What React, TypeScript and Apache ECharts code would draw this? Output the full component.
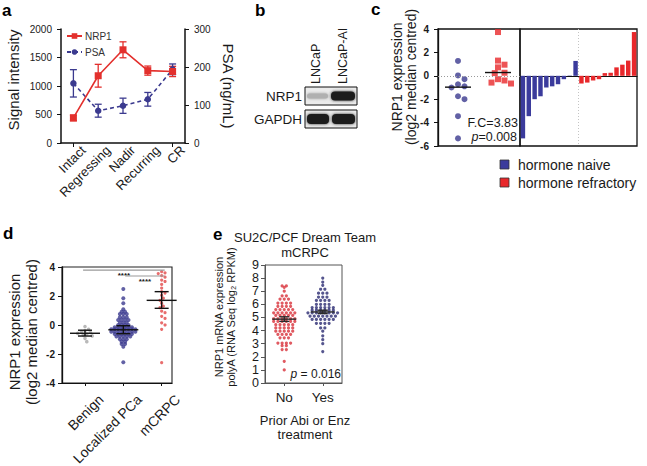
import React, { useEffect, useRef } from 'react';
import * as echarts from 'echarts';

const FONT = '"Liberation Sans", Arial, Helvetica, sans-serif';
const INK = '#1a1a1a';
const RED = '#e3302d';
const NAVY = '#3b3a8f';
const E_RED = '#d8313a';
const E_NAVY = '#2b2a72';
const GRAY = '#a8a8a8';

// ---------- panel a ----------
const aCategories = ['Intact', 'Regressing', 'Nadir', 'Recurring', 'CR'];
const aNrp1 = [440, 1180, 1635, 1270, 1255];
const aNrp1Err = [50, 200, 140, 80, 90];
const aPsa = [157, 85, 98, 115, 194];
const aPsaErr = [36, 17, 20, 18, 14];
const aLeftRange = [0, 2000, 500];
const aRightRange = [0, 300, 100];

// ---------- panel c ----------
const cGroups = ['hormone naive', 'hormone refractory'];
const cNaive = [1.27, 0.03, -0.29, -0.72, -0.9, -1.0, -1.75, -2.0, -3.45, -5.35];
const cRefractory = [3.74, 1.3, 0.95, 0.72, 0.26, 0.23, -0.29, -0.4, -0.58, -0.66];
const cMedians = [-0.97, 0.28];
const cRange = [-6, 4, 2];

// ---------- panel d ----------
const dCategories = ['Benign', 'Localized PCa', 'mCRPC'];
const dBenign = [-0.1, -0.3, -0.38, -0.45, -0.52, -0.58, -0.62, -0.68, -0.75, -0.92, -1.15];
const dLocalized = [
  2.48, 1.84, 1.5, 1.08, 0.92, 0.92, 0.76, 0.76, 0.76, 0.53, 0.53, 0.53,
  0.35, 0.35, 0.35, 0.35, 0.16, 0.16, 0.16, 0, 0, 0, 0,
  -0.16, -0.16, -0.16, -0.16, -0.16, -0.16,
  -0.3, -0.3, -0.3, -0.3, -0.3, -0.3, -0.3, -0.3,
  -0.46, -0.46, -0.46, -0.46, -0.46, -0.46, -0.46, -0.46,
  -0.62, -0.62, -0.62, -0.62, -0.62, -0.62,
  -0.8, -0.8, -0.8, -0.8, -0.8, -0.99, -0.99, -0.99,
  -1.15, -1.15, -1.31, -1.31, -1.5, -2.57,
];
const dMcrpc = [3.68, 3.6, 3.55, 3.4, 3.3, 3.1, 3.0, 2.8, 2.55, 2.3, 2.2, 2.05, 1.85, 1.7, 1.5, 1.3, 1.2, 0.95, 0.85, 0.6, 0.45, 0.15, 0.0, -0.3, -2.6];
const dMean = [-0.57, -0.33, 1.7];
const dLow = [-0.76, -0.6, 1.15];
const dHigh = [-0.36, -0.05, 2.3];
const dSigFrom = [0.95, 2.05];
const dSigTo = [3.08, 3.08];
const dSigY = [3.79, 3.38];
const dSigLabels = ['****', '****'];
const dRange = [-4, 4, 2];

// ---------- panel e ----------
const eCategories = ['No', 'Yes'];
const eNo = [
  7.4, 7.4, 7.3, 7.0, 6.65, 6.65, 6.4, 6.4, 6.4, 6.1, 6.1, 6.1, 6.1,
  5.85, 5.85, 5.85, 5.85, 5.6, 5.6, 5.6, 5.6, 5.6,
  5.35, 5.35, 5.35, 5.35, 5.35, 5.35, 5.15, 5.15, 5.15, 5.15, 5.15,
  4.9, 4.9, 4.9, 4.9, 4.9, 4.9, 4.7, 4.7, 4.7, 4.7, 4.7, 4.7,
  4.45, 4.45, 4.45, 4.45, 4.45, 4.2, 4.2, 4.2, 4.2, 4.2,
  3.95, 3.95, 3.95, 3.95, 3.95, 3.7, 3.7, 3.7, 3.7, 3.45, 3.45, 3.45,
  3.05, 3.05, 3.05, 3.05, 2.85, 2.85, 2.55, 2.55, 1.65, 1.0,
];
const eYes = [
  8.0, 7.7, 7.45, 7.15, 7.15, 6.85, 6.85, 6.85, 6.55, 6.55, 6.55,
  6.3, 6.3, 6.3, 6.3, 6.0, 6.0, 6.0, 6.0,
  5.75, 5.75, 5.75, 5.75, 5.75, 5.75, 5.55, 5.55, 5.55, 5.55, 5.55, 5.55,
  5.35, 5.35, 5.35, 5.35, 5.35, 5.35, 5.35, 5.35,
  5.1, 5.1, 5.1, 5.1, 5.1, 5.1, 5.1, 4.85, 4.85, 4.85, 4.85, 4.85, 4.85,
  4.55, 4.55, 4.55, 4.55, 4.2, 4.2, 3.95, 3.6, 3.3, 3.0, 2.4,
];
const eMean = [4.87, 5.42];
const eLow = [4.7, 5.3];
const eHigh = [5.05, 5.55];
const eRange = [0, 9, 1];

// ---------- helpers (layout of dot clouds) ----------
function swarmOffsets(vals: number[], pxPerY: number, pxPerX: number, diam: number): number[] {
  const order = vals.map((_, i) => i).sort((a, b) => vals[b] - vals[a]);
  const placed: [number, number][] = [];
  const out = new Array(vals.length).fill(0);
  const step = diam / 2;
  for (const i of order) {
    const y = vals[i] * pxPerY;
    for (let k = 0; k < 400; k++) {
      const m = Math.ceil(k / 2) * (k % 2 === 1 ? 1 : -1);
      const x = m * step;
      let ok = true;
      for (const [px, py] of placed) {
        const dx = px - x;
        const dy = py - y;
        if (dx * dx + dy * dy < diam * diam * 0.95) { ok = false; break; }
      }
      if (ok) { placed.push([x, y]); out[i] = x / pxPerX; break; }
    }
  }
  return out;
}

function rowOffsets(vals: number[], spacing: number): number[] {
  const groups = new Map<number, number[]>();
  vals.forEach((v, i) => {
    const key = Math.round(v * 1000);
    if (!groups.has(key)) groups.set(key, []);
    groups.get(key)!.push(i);
  });
  const out = new Array(vals.length).fill(0);
  groups.forEach((idx) => {
    idx.forEach((i, j) => { out[i] = (j - (idx.length - 1) / 2) * spacing; });
  });
  return out;
}

function errRender(color: string, cap: number) {
  return (_p: any, api: any) => {
    const x = api.value(0);
    const lo = api.coord([x, api.value(1)]);
    const hi = api.coord([x, api.value(2)]);
    const style = { stroke: color, lineWidth: 1.3 };
    return {
      type: 'group',
      children: [
        { type: 'line', shape: { x1: lo[0], y1: lo[1], x2: hi[0], y2: hi[1] }, style },
        { type: 'line', shape: { x1: lo[0] - cap, y1: lo[1], x2: lo[0] + cap, y2: lo[1] }, style },
        { type: 'line', shape: { x1: hi[0] - cap, y1: hi[1], x2: hi[0] + cap, y2: hi[1] }, style },
      ],
    };
  };
}

function meanErrRender(color: string, half: number, cap: number, width: number) {
  return (_p: any, api: any) => {
    const x = api.value(0);
    const m = api.coord([x, api.value(1)]);
    const lo = api.coord([x, api.value(2)]);
    const hi = api.coord([x, api.value(3)]);
    const style = { stroke: color, lineWidth: width };
    return {
      type: 'group',
      children: [
        { type: 'line', shape: { x1: m[0] - half, y1: m[1], x2: m[0] + half, y2: m[1] }, style },
        { type: 'line', shape: { x1: lo[0], y1: lo[1], x2: hi[0], y2: hi[1] }, style },
        { type: 'line', shape: { x1: lo[0] - cap, y1: lo[1], x2: lo[0] + cap, y2: lo[1] }, style },
        { type: 'line', shape: { x1: hi[0] - cap, y1: hi[1], x2: hi[0] + cap, y2: hi[1] }, style },
      ],
    };
  };
}

function medianRender(half: number) {
  return (_p: any, api: any) => {
    const c = api.coord([api.value(0), api.value(1)]);
    return {
      type: 'line',
      shape: { x1: c[0] - half, y1: c[1], x2: c[0] + half, y2: c[1] },
      style: { stroke: '#111', lineWidth: 1.4 },
    };
  };
}

function dividerRender(params: any, api: any) {
  const a = api.coord([api.value(0), 0]);
  const b = api.coord([api.value(0) + 1, 0]);
  const cs = params.coordSys;
  const x = (a[0] + b[0]) / 2;
  return {
    type: 'line',
    shape: { x1: x, y1: cs.y, x2: x, y2: cs.y + cs.height },
    style: { stroke: '#c4c4c4', lineWidth: 1, lineDash: [1, 2] },
  };
}

function sigRender(params: any, api: any) {
  const a = api.coord([api.value(0), api.value(2)]);
  const b = api.coord([api.value(1), api.value(2)]);
  return {
    type: 'group',
    children: [
      { type: 'line', shape: { x1: a[0], y1: a[1], x2: b[0], y2: b[1] }, style: { stroke: '#9a9a9a', lineWidth: 1.2 } },
      {
        type: 'text',
        x: (a[0] + b[0]) / 2,
        y: a[1] + 5.5,
        style: {
          text: dSigLabels[params.dataIndex],
          fill: INK,
          font: `bold 8px ${FONT}`,
          align: 'center',
          verticalAlign: 'middle',
        },
      },
    ],
  };
}

const tickLabel = (size: number, bold = false, margin = 8) => ({
  fontSize: size,
  fontFamily: FONT,
  color: INK,
  fontWeight: bold ? 'bold' : 'normal',
  margin,
  showMinLabel: true,
  showMaxLabel: true,
});

function valueY(gridIndex: number, r: number[], size: number, bold: boolean, margin: number, extra: any = {}) {
  return {
    type: 'value',
    gridIndex,
    min: r[0],
    max: r[1],
    interval: r[2],
    splitLine: { show: false },
    axisLine: { show: true, onZero: false, lineStyle: { color: '#111', width: 1.3 } },
    axisTick: { show: true, inside: false, length: 4, lineStyle: { color: '#111' } },
    axisLabel: { ...tickLabel(size, bold, margin), formatter: (v: number) => String(v) },
    ...extra,
  };
}

function buildOption(): any {
  const cNaiveOff = swarmOffsets(cNaive, 11.7, 40, 6.5);
  const cRefOff = swarmOffsets(cRefractory, 11.7, 40, 6.5);
  const bars = [
    ...[...cNaive].sort((a, b) => a - b).map((v) => ({ value: v, itemStyle: { color: '#3b3b9c' } })),
    ...[...cRefractory].sort((a, b) => a - b).map((v) => ({ value: v, itemStyle: { color: '#e8282b' } })),
  ];
  const barCats = bars.map((_, i) => String(i + 1));

  const dBenOff = swarmOffsets(dBenign, 14.5, 38.3, 3.6);
  const dLocOff = rowOffsets(dLocalized, 0.09);
  const dMcOff = swarmOffsets(dMcrpc, 14.5, 38.3, 3.4);

  const eNoOff = rowOffsets(eNo, 0.11);
  const eYesOff = rowOffsets(eYes, 0.11);

  const gridBase = { containLabel: false, outerBoundsMode: 'none' };

  const graphicText = (text: string, x: number, y: number, style: any = {}, extra: any = {}) => ({
    type: 'text',
    x,
    y,
    silent: true,
    ...extra,
    style: {
      text,
      fill: INK,
      fontFamily: FONT,
      fontSize: 14,
      align: 'center',
      verticalAlign: 'middle',
      ...style,
    },
  });

  const letter = (t: string, x: number, y: number) =>
    graphicText(t, x, y, { fontSize: 17, fontWeight: 'bold', align: 'left', fill: '#000' });

  const hiddenLine = { show: false };

  return {
    animation: false,
    backgroundColor: '#ffffff',
    textStyle: { fontFamily: FONT },
    legend: {
      data: ['NRP1', 'PSA'],
      left: 66,
      top: 31,
      orient: 'vertical',
      itemWidth: 15,
      itemHeight: 7,
      itemGap: 6,
      padding: 0,
      textStyle: { fontSize: 10, fontFamily: FONT, color: '#333', padding: [0, 0, 0, -2] },
    },
    grid: [
      { ...gridBase, left: 61, top: 29, width: 124, height: 114, show: false },
      { ...gridBase, left: 438, top: 29, width: 82, height: 117, show: true, borderColor: '#111', borderWidth: 1.3 },
      { ...gridBase, left: 520, top: 29, width: 117, height: 117, show: true, borderColor: '#111', borderWidth: 1.3 },
      { ...gridBase, left: 62, top: 267, width: 110, height: 116, show: true, borderColor: '#222', borderWidth: 1.1 },
      { ...gridBase, left: 265, top: 265, width: 77, height: 118, show: true, borderColor: '#555', borderWidth: 1 },
      // label carriers for the slanted category names (set off to the right, as in the figure)
      { ...gridBase, left: 71, top: 29, width: 124, height: 114, show: false },
      { ...gridBase, left: 78, top: 267, width: 110, height: 116, show: false },
    ],
    xAxis: [
      {
        type: 'category',
        gridIndex: 0,
        data: aCategories,
        boundaryGap: true,
        axisLine: { show: true, onZero: false, lineStyle: { color: '#111', width: 1.5 } },
        axisTick: { show: true, alignWithLabel: true, length: 4, lineStyle: { color: '#111' } },
        splitLine: { show: false },
        axisLabel: { show: false },
      },
      {
        type: 'value',
        gridIndex: 1,
        min: 0.5,
        max: 2.55,
        show: false,
        splitLine: { show: false },
      },
      {
        type: 'category',
        gridIndex: 2,
        data: barCats,
        boundaryGap: true,
        axisLine: { show: true, onZero: true, lineStyle: { color: '#111', width: 1.2 } },
        axisTick: { show: false },
        axisLabel: { show: false },
        splitLine: { show: false },
      },
      {
        type: 'value',
        gridIndex: 3,
        min: 0.4,
        max: 3.27,
        splitLine: { show: false },
        axisLine: { show: true, onZero: false, lineStyle: { color: '#111', width: 1.1 } },
        axisTick: { show: true, length: 3, customValues: [1, 2, 3], lineStyle: { color: '#111' } },
        axisLabel: { show: false },
      },
      {
        type: 'value',
        gridIndex: 4,
        min: 0.5,
        max: 2.5,
        splitLine: { show: false },
        axisLine: { show: true, onZero: false, lineStyle: { color: '#555', width: 1 } },
        axisTick: { show: true, length: 3, customValues: [1, 2], lineStyle: { color: '#555' } },
        axisLabel: {
          ...tickLabel(13.5, false, 7),
          customValues: [1, 2],
          formatter: (v: number) => eCategories[Math.round(v) - 1] ?? '',
        },
      },
      {
        type: 'category',
        gridIndex: 5,
        data: aCategories,
        boundaryGap: true,
        axisLine: hiddenLine,
        axisTick: { show: false },
        splitLine: { show: false },
        axisLabel: { ...tickLabel(13, false, 5), rotate: 45, interval: 0 },
      },
      {
        type: 'value',
        gridIndex: 6,
        min: 0.4,
        max: 3.27,
        axisLine: hiddenLine,
        axisTick: { show: false },
        splitLine: { show: false },
        axisLabel: {
          ...tickLabel(14, false, 14),
          rotate: 45,
          customValues: [1, 2, 3],
          formatter: (v: number) => dCategories[Math.round(v) - 1] ?? '',
        },
      },
    ],
    yAxis: [
      valueY(0, aLeftRange, 10, false, 9, { axisLine: { show: true, onZero: false, lineStyle: { color: '#111', width: 1.5 } } }),
      valueY(0, aRightRange, 10, false, 9, { position: 'right', axisLine: { show: true, onZero: false, lineStyle: { color: '#111', width: 1.5 } } }),
      valueY(1, cRange, 10, true, 9),
      { type: 'value', gridIndex: 2, min: cRange[0], max: cRange[1], interval: cRange[2], show: false, splitLine: { show: false } },
      valueY(3, dRange, 10, true, 7),
      valueY(4, eRange, 12.5, false, 6, {
        axisLine: { show: true, onZero: false, lineStyle: { color: '#555', width: 1 } },
        axisTick: { show: true, length: 4, lineStyle: { color: '#555' } },
        axisLabel: { ...tickLabel(12.5, false, 6), lineHeight: 12, formatter: (v: number) => String(v) },
      }),
      { type: 'value', gridIndex: 5, min: 0, max: 1, show: false, splitLine: { show: false } },
      { type: 'value', gridIndex: 6, min: 0, max: 1, show: false, splitLine: { show: false } },
    ],
    series: [
      // ---- panel a ----
      {
        name: 'NRP1 error',
        type: 'custom',
        xAxisIndex: 0,
        yAxisIndex: 0,
        renderItem: errRender(RED, 3.5),
        encode: { x: 0, y: [1, 2] },
        data: aNrp1.map((v, i) => [i, v - aNrp1Err[i], v + aNrp1Err[i]]),
        z: 2,
      },
      {
        name: 'PSA error',
        type: 'custom',
        xAxisIndex: 0,
        yAxisIndex: 1,
        renderItem: errRender(NAVY, 3.5),
        encode: { x: 0, y: [1, 2] },
        data: aPsa.map((v, i) => [i, v - aPsaErr[i], v + aPsaErr[i]]),
        z: 2,
      },
      {
        name: 'PSA',
        type: 'line',
        xAxisIndex: 0,
        yAxisIndex: 1,
        data: aPsa,
        symbol: 'circle',
        symbolSize: 6.5,
        itemStyle: { color: NAVY },
        lineStyle: { color: NAVY, width: 1.6, type: [4, 3] },
        z: 3,
      },
      {
        name: 'NRP1',
        type: 'line',
        xAxisIndex: 0,
        yAxisIndex: 0,
        data: aNrp1,
        symbol: 'rect',
        symbolSize: 7,
        itemStyle: { color: RED },
        lineStyle: { color: RED, width: 1.6 },
        z: 4,
      },
      // ---- panel c ----
      {
        name: cGroups[0] + ' dots',
        type: 'scatter',
        xAxisIndex: 1,
        yAxisIndex: 2,
        symbol: 'circle',
        symbolSize: 6,
        itemStyle: { color: NAVY },
        data: cNaive.map((v, i) => [1 + cNaiveOff[i], v]),
        markLine: {
          silent: true,
          symbol: 'none',
          label: { show: false },
          lineStyle: { color: '#999', type: [1, 2], width: 1 },
          data: [{ yAxis: 0 }],
        },
        z: 3,
      },
      {
        name: cGroups[1] + ' dots',
        type: 'scatter',
        xAxisIndex: 1,
        yAxisIndex: 2,
        symbol: 'rect',
        symbolSize: 6,
        itemStyle: { color: '#e8282b' },
        data: cRefractory.map((v, i) => [2 + cRefOff[i], v]),
        z: 3,
      },
      {
        name: 'c medians',
        type: 'custom',
        xAxisIndex: 1,
        yAxisIndex: 2,
        renderItem: medianRender(13),
        encode: { x: 0, y: 1 },
        data: cMedians.map((m, i) => [i + 1, m]),
        z: 4,
      },
      {
        name: 'c divider',
        type: 'custom',
        xAxisIndex: 2,
        yAxisIndex: 3,
        renderItem: dividerRender,
        encode: { x: 0, y: 1 },
        data: [[cNaive.length - 1, 0]],
        z: 1,
      },
      {
        name: 'c waterfall',
        type: 'bar',
        xAxisIndex: 2,
        yAxisIndex: 3,
        data: bars,
        barCategoryGap: '24%',
        z: 3,
      },
      // ---- panel d ----
      {
        name: dCategories[0],
        type: 'scatter',
        xAxisIndex: 3,
        yAxisIndex: 4,
        symbol: 'circle',
        symbolSize: 3.6,
        itemStyle: { color: GRAY },
        data: dBenign.map((v, i) => [1 + dBenOff[i], v]),
      },
      {
        name: dCategories[1],
        type: 'scatter',
        xAxisIndex: 3,
        yAxisIndex: 4,
        symbol: 'circle',
        symbolSize: 4,
        itemStyle: { color: NAVY },
        data: dLocalized.map((v, i) => [2 + dLocOff[i], v]),
      },
      {
        name: dCategories[2],
        type: 'scatter',
        xAxisIndex: 3,
        yAxisIndex: 4,
        symbol: 'circle',
        symbolSize: 3.2,
        itemStyle: { color: '#e24848' },
        data: dMcrpc.map((v, i) => [3 + dMcOff[i], v]),
      },
      {
        name: 'd mean',
        type: 'custom',
        xAxisIndex: 3,
        yAxisIndex: 4,
        renderItem: meanErrRender('#111', 15, 7, 1.4),
        encode: { x: 0, y: [1, 2, 3] },
        data: dMean.map((m, i) => [i + 1, m, dLow[i], dHigh[i]]),
        z: 5,
      },
      {
        name: 'd significance',
        type: 'custom',
        xAxisIndex: 3,
        yAxisIndex: 4,
        renderItem: sigRender,
        encode: { x: [0, 1], y: 2 },
        data: dSigY.map((y, i) => [dSigFrom[i], dSigTo[i], y]),
        z: 5,
      },
      // ---- panel e ----
      {
        name: eCategories[0],
        type: 'scatter',
        xAxisIndex: 4,
        yAxisIndex: 5,
        symbol: 'circle',
        symbolSize: 3.2,
        itemStyle: { color: E_RED },
        data: eNo.map((v, i) => [1 + eNoOff[i], v]),
      },
      {
        name: eCategories[1],
        type: 'scatter',
        xAxisIndex: 4,
        yAxisIndex: 5,
        symbol: 'circle',
        symbolSize: 3.2,
        itemStyle: { color: E_NAVY },
        data: eYes.map((v, i) => [2 + eYesOff[i], v]),
      },
      {
        name: 'e mean',
        type: 'custom',
        xAxisIndex: 4,
        yAxisIndex: 5,
        renderItem: meanErrRender('#2a2a2a', 12, 5, 1.4),
        encode: { x: 0, y: [1, 2, 3] },
        data: eMean.map((m, i) => [i + 1, m, eLow[i], eHigh[i]]),
        z: 5,
      },
    ],
    graphic: [
      letter('a', 2, 10),
      letter('b', 255, 10),
      letter('c', 371, 9),
      letter('d', 3, 233),
      letter('e', 213, 234),
      // panel a titles
      graphicText('Signal intensity', 13, 80, { fontSize: 15 }, { rotation: Math.PI / 2 }),
      graphicText('PSA (ng/mL)', 228, 86, { fontSize: 15 }, { rotation: -Math.PI / 2 }),
      // panel b blot
      graphicText('LNCaP', 316, 84, { fontSize: 12.5, align: 'left' }, { rotation: Math.PI / 2 }),
      graphicText('LNCaP-AI', 343, 84, { fontSize: 12.5, align: 'left' }, { rotation: Math.PI / 2 }),
      graphicText('NRP1', 302, 96, { fontSize: 13.5, align: 'right' }),
      graphicText('GAPDH', 302, 119, { fontSize: 13.5, align: 'right' }),
      { type: 'rect', shape: { x: 305, y: 87, width: 52, height: 18 }, style: { fill: '#ebebeb', stroke: '#111', lineWidth: 1 }, silent: true },
      { type: 'rect', shape: { x: 305, y: 110, width: 52, height: 18 }, style: { fill: '#ebebeb', stroke: '#111', lineWidth: 1 }, silent: true },
      { type: 'rect', shape: { x: 307, y: 93.5, width: 21, height: 5, r: 2.5 }, style: { fill: '#b0b0b0', shadowBlur: 3, shadowColor: '#a0a0a0' }, silent: true },
      { type: 'rect', shape: { x: 331, y: 91.5, width: 24, height: 9, r: 4 }, style: { fill: '#1c1c1c', shadowBlur: 3, shadowColor: '#333' }, silent: true },
      { type: 'rect', shape: { x: 307, y: 114, width: 22, height: 10, r: 4 }, style: { fill: '#1c1c1c', shadowBlur: 3, shadowColor: '#333' }, silent: true },
      { type: 'rect', shape: { x: 332, y: 114, width: 23, height: 10, r: 4 }, style: { fill: '#1c1c1c', shadowBlur: 3, shadowColor: '#333' }, silent: true },
      // panel c
      graphicText('NRP1 expression\n(log2 median centred)', 403.5, 77, { fontSize: 14, lineHeight: 14 }, { rotation: Math.PI / 2 }),
      graphicText('F.C=3.83', 518, 123, { fontSize: 12.5, align: 'right' }),
      graphicText('{i|p}=0.008', 517, 137, {
        fontSize: 12.5,
        align: 'right',
        rich: { i: { fontStyle: 'italic', fontSize: 12.5, fontFamily: FONT, fill: INK } },
      }),
      { type: 'rect', shape: { x: 500, y: 160, width: 9, height: 9 }, style: { fill: '#3b3b9c', stroke: '#333', lineWidth: 0.8 }, silent: true },
      { type: 'rect', shape: { x: 500, y: 178, width: 9, height: 9 }, style: { fill: '#e8282b', stroke: '#333', lineWidth: 0.8 }, silent: true },
      graphicText(cGroups[0], 518, 164.5, { fontSize: 14, align: 'left' }),
      graphicText(cGroups[1], 518, 182.5, { fontSize: 14, align: 'left' }),
      // panel d
      graphicText('NRP1 expression\n(log2 median centred)', 22.5, 332, { fontSize: 15, lineHeight: 17 }, { rotation: Math.PI / 2 }),
      // panel e
      graphicText('SU2C/PCF Dream Team\nmCRPC', 305, 244.5, { fontSize: 13, lineHeight: 15 }),
      graphicText('NRP1 mRNA expression\npolyA (RNA Seq log\u2082 RPKM)', 225, 317, { fontSize: 11, lineHeight: 12.5 }, { rotation: Math.PI / 2 }),
      graphicText('{i|p} = 0.016', 341, 374, {
        fontSize: 12,
        align: 'right',
        rich: { i: { fontStyle: 'italic', fontSize: 12, fontFamily: FONT, fill: INK } },
      }),
      graphicText('Prior Abi or Enz\ntreatment', 305, 427, { fontSize: 13, lineHeight: 14 }),
    ],
  };
}

export default function App() {
  const ref = useRef<HTMLDivElement>(null);
  useEffect(() => {
    if (!ref.current) return;
    const chart = echarts.init(ref.current, undefined, { renderer: 'svg' });
    chart.setOption(buildOption());
    return () => chart.dispose();
  }, []);
  return (
    <div
      ref={ref}
      style={{ position: 'absolute', left: 0, top: 0, width: 647, height: 466, background: '#fff' }}
    />
  );
}
